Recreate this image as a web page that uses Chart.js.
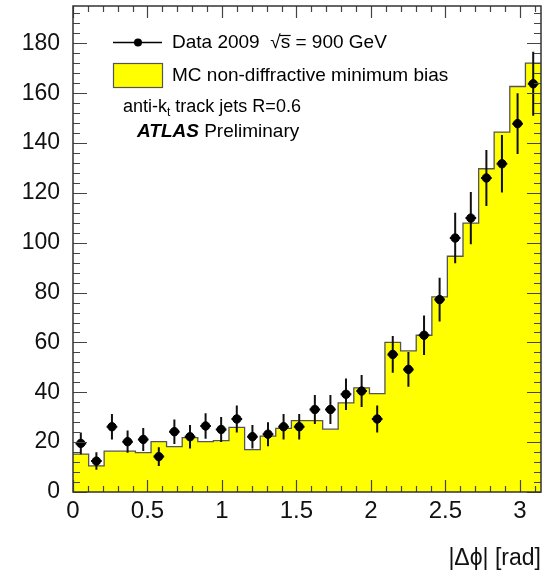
<!DOCTYPE html>
<html>
<head>
<meta charset="utf-8">
<script src="https://cdn.jsdelivr.net/npm/chart.js@4.4.0/dist/chart.umd.min.js"></script>
<style>
  html, body { margin: 0; padding: 0; background: #fff; }
  #wrap { width: 553px; height: 575px; }
</style>
</head>
<body>
<div id="wrap"><canvas id="dphiChart"></canvas></div>
<script>
// |delta phi| bins (30 bins from 0 to pi)
const binEdges = [0, 0.105, 0.209, 0.314, 0.419, 0.524, 0.628, 0.733, 0.838, 0.942,
    1.047, 1.152, 1.257, 1.361, 1.466, 1.571, 1.676, 1.780, 1.885, 1.990,
    2.094, 2.199, 2.304, 2.409, 2.513, 2.618, 2.723, 2.827, 2.932, 3.037, 3.1416];

// Data 2009, sqrt(s) = 900 GeV
const dataValues = [19.5, 12.4, 26.2, 20.2, 21.1, 14.2, 24.2, 22.2, 26.5, 25.1,
    29.3, 22.2, 23.2, 26.2, 26.2, 33.1, 33.1, 39.2, 40.5, 29.3,
    55.2, 49.2, 62.9, 77.2, 101.9, 109.9, 126.0, 131.7, 147.8, 163.8];
const dataErrors = [4.4, 3.5, 5.1, 4.5, 4.6, 3.8, 4.9, 4.7, 5.1, 5.0,
    5.4, 4.7, 4.8, 5.1, 5.1, 5.8, 5.8, 6.3, 6.4, 5.4,
    7.4, 7.0, 7.9, 8.8, 10.1, 10.5, 11.2, 11.5, 12.2, 12.8];

// MC non-diffractive minimum bias
const mcValues = [15.2, 10.5, 16.4, 16.4, 15.8, 20.2, 18.2, 21.8, 20.2, 20.6,
    25.9, 17.0, 22.4, 25.5, 28.6, 28.6, 25.2, 35.8, 41.8, 39.5,
    60.0, 56.6, 62.9, 78.3, 94.6, 107.9, 129.7, 144.4, 162.7, 172.1];

const xTicks = [0, 0.5, 1, 1.5, 2, 2.5, 3];
const xTickLabels = ['0', '0.5', '1', '1.5', '2', '2.5', '3'];
const yTicks = [0, 20, 40, 60, 80, 100, 120, 140, 160, 180];
const yTickLabels = ['0', '20', '40', '60', '80', '100', '120', '140', '160', '180'];

const FONT = '"Liberation Sans", Arial, Helvetica, sans-serif';

// histogram outline: one point per lower edge, plus the last edge
const mcPoints = binEdges.map((e, i) => ({ x: e, y: mcValues[Math.min(i, mcValues.length - 1)] }));
const dataPoints = dataValues.map((v, i) => ({ x: (binEdges[i] + binEdges[i + 1]) / 2, y: v }));

// error bars for the data points
const errorBars = {
    id: 'errorBars',
    beforeDatasetDraw(chart, args) {
        if (args.index !== 1) return;
        const { ctx, scales: { x, y } } = chart;
        ctx.save();
        ctx.strokeStyle = '#111';
        ctx.lineWidth = 2;
        dataPoints.forEach((p, i) => {
            const px = x.getPixelForValue(p.x);
            ctx.beginPath();
            ctx.moveTo(px, y.getPixelForValue(p.y - dataErrors[i]));
            ctx.lineTo(px, y.getPixelForValue(p.y + dataErrors[i]));
            ctx.moveTo(x.getPixelForValue(p.x - 0.036), y.getPixelForValue(p.y));
            ctx.lineTo(x.getPixelForValue(p.x + 0.036), y.getPixelForValue(p.y));
            ctx.stroke();
        });
        ctx.restore();
    }
};

// ROOT style frame with inward ticks on all four sides
const frameTicks = {
    id: 'frameTicks',
    afterDatasetsDraw(chart) {
        const { ctx, chartArea: a, scales: { x, y } } = chart;
        ctx.save();
        ctx.strokeStyle = '#444';
        ctx.lineWidth = 1.2;
        ctx.beginPath();
        for (let v = 0; v <= 3.15; v += 0.1) {
            const px = Math.round(x.getPixelForValue(v)) + 0.5;
            const major = Math.abs(v * 2 - Math.round(v * 2)) < 1e-6;
            const len = major ? 12 : 6;
            ctx.moveTo(px, a.bottom); ctx.lineTo(px, a.bottom - len);
            ctx.moveTo(px, a.top); ctx.lineTo(px, a.top + len);
        }
        for (let v = 0; v <= 195; v += 4) {
            const py = Math.round(y.getPixelForValue(v)) + 0.5;
            const len = v % 20 === 0 ? 14 : 7;
            ctx.moveTo(a.left, py); ctx.lineTo(a.left + len, py);
            ctx.moveTo(a.right, py); ctx.lineTo(a.right - len, py);
        }
        ctx.stroke();
        ctx.strokeStyle = '#333';
        ctx.lineWidth = 1.5;
        ctx.strokeRect(a.left, a.top, a.right - a.left, a.bottom - a.top);
        ctx.restore();
    }
};

// legend and labels in the upper left corner
const atlasLegend = {
    id: 'atlasLegend',
    afterDraw(chart) {
        const ctx = chart.ctx;
        ctx.save();
        ctx.textBaseline = 'middle';
        ctx.textAlign = 'left';
        ctx.fillStyle = '#000';

        // data entry
        ctx.strokeStyle = '#000';
        ctx.lineWidth = 1.5;
        ctx.beginPath();
        ctx.moveTo(113, 42.5); ctx.lineTo(162, 42.5);
        ctx.stroke();
        ctx.beginPath();
        ctx.arc(138, 42.5, 4, 0, Math.PI * 2);
        ctx.fill();
        ctx.font = '19px ' + FONT;
        const t1 = 'Data 2009  \u221A';
        ctx.fillText(t1 + 's = 900 GeV', 172, 43);
        const sx = 172 + ctx.measureText(t1).width;
        const sw = ctx.measureText('s').width;
        ctx.lineWidth = 1.2;
        ctx.beginPath();
        ctx.moveTo(sx - 1, 35.5); ctx.lineTo(sx + sw + 0.5, 35.5);
        ctx.stroke();

        // MC entry
        ctx.fillStyle = '#ffff00';
        ctx.fillRect(113, 63, 49, 24);
        ctx.strokeStyle = '#555';
        ctx.lineWidth = 1.2;
        ctx.strokeRect(113.5, 63.5, 49, 24);
        ctx.fillStyle = '#000';
        ctx.fillText('MC non-diffractive minimum bias', 172, 75.5);

        // jet algorithm
        ctx.font = '18px ' + FONT;
        let px = 123;
        ctx.fillText('anti-k', px, 107);
        px += ctx.measureText('anti-k').width;
        ctx.font = '12px ' + FONT;
        ctx.fillText('t', px, 113);
        px += ctx.measureText('t').width;
        ctx.font = '18px ' + FONT;
        ctx.fillText(' track jets R=0.6', px, 107);

        // ATLAS Preliminary
        ctx.font = 'italic bold 19px ' + FONT;
        ctx.fillText('ATLAS', 137, 131.5);
        px = 137 + ctx.measureText('ATLAS').width;
        ctx.font = '19px ' + FONT;
        ctx.fillText(' Preliminary', px, 131.5);
        ctx.restore();
    }
};

new Chart(document.getElementById('dphiChart'), {
    data: {
        datasets: [
            {
                type: 'line',
                label: 'MC non-diffractive minimum bias',
                data: mcPoints,
                stepped: 'before',
                fill: 'origin',
                backgroundColor: '#ffff00',
                borderColor: '#555',
                borderWidth: 1.3,
                pointRadius: 0,
                order: 2
            },
            {
                type: 'scatter',
                label: 'Data 2009',
                data: dataPoints,
                backgroundColor: '#000',
                borderColor: '#000',
                pointRadius: 4.2,
                pointHoverRadius: 4.2,
                order: 1
            }
        ]
    },
    options: {
        responsive: true,
        maintainAspectRatio: false,
        animation: false,
        events: [],
        layout: { padding: { left: 0, right: 12, top: 6, bottom: 0 } },
        plugins: {
            legend: { display: false },
            tooltip: { enabled: false }
        },
        scales: {
            x: {
                type: 'linear',
                min: 0,
                max: 3.1416,
                grid: { display: false },
                border: { display: false },
                afterBuildTicks: (s) => { s.ticks = xTicks.map(v => ({ value: v })); },
                afterFit: (s) => { s.height = 83; s.paddingLeft = 0; s.paddingRight = 0; },
                ticks: {
                    autoSkip: false,
                    maxRotation: 0,
                    padding: -3,
                    color: '#111',
                    font: { family: FONT, size: 24 },
                    callback: (v, i) => xTickLabels[i]
                },
                title: {
                    display: true,
                    align: 'end',
                    text: '|\u0394\u03D5| [rad]',
                    color: '#111',
                    font: { family: FONT, size: 23 },
                    padding: { top: 0, bottom: 3 }
                }
            },
            y: {
                type: 'linear',
                min: 0,
                max: 195,
                grid: { display: false },
                border: { display: false },
                afterBuildTicks: (s) => { s.ticks = yTicks.map(v => ({ value: v })); },
                afterFit: (s) => { s.width = 73; s.paddingTop = 0; s.paddingBottom = 0; },
                ticks: {
                    autoSkip: false,
                    padding: 5,
                    color: '#111',
                    font: { family: FONT, size: 23 },
                    callback: (v, i) => yTickLabels[i]
                }
            }
        }
    },
    plugins: [errorBars, frameTicks, atlasLegend]
});
</script>
</body>
</html>
